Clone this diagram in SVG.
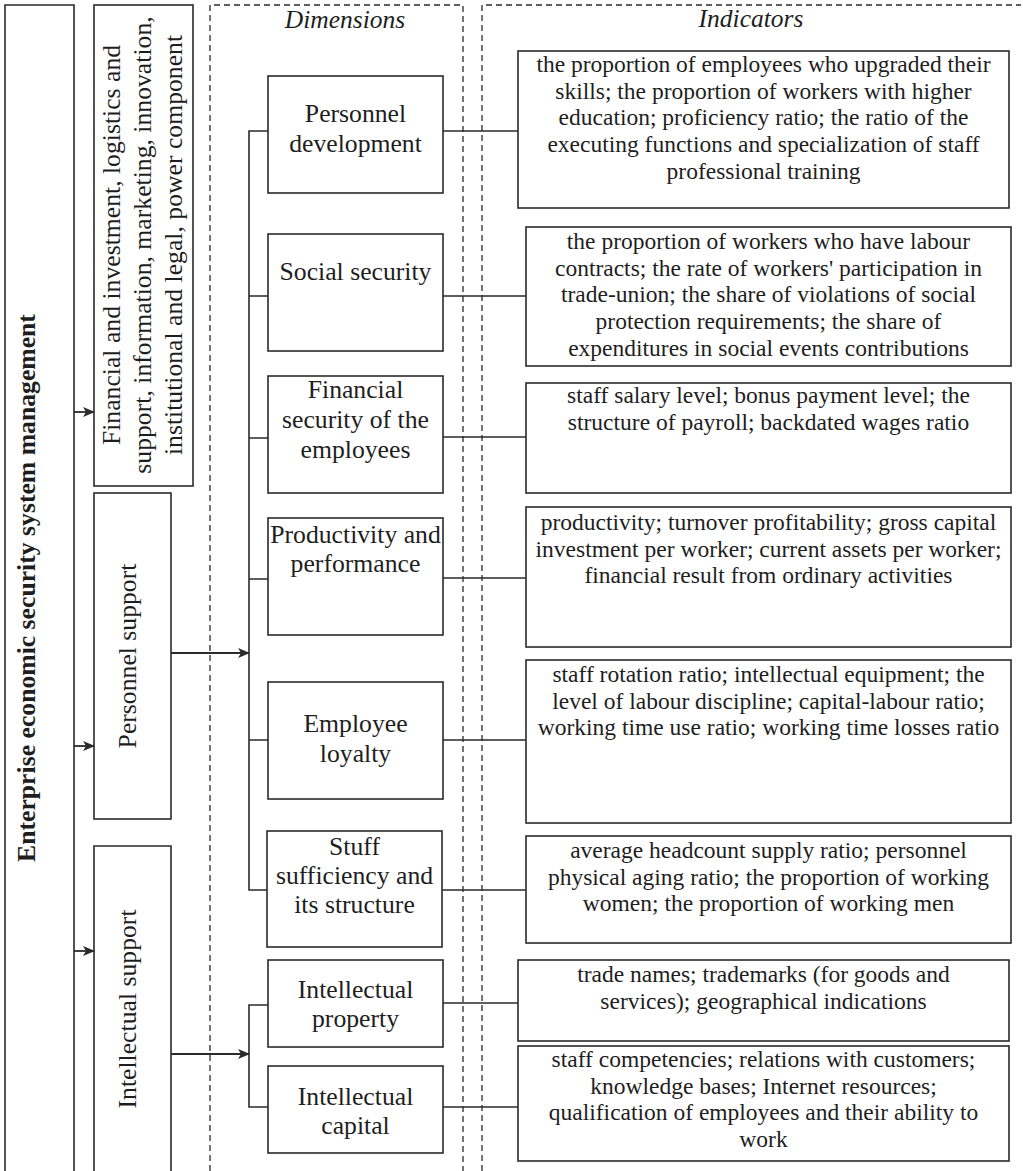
<svg xmlns="http://www.w3.org/2000/svg" width="1023" height="1171" viewBox="0 0 1023 1171">
  <style>
    .box { fill: #fff; stroke: #2a2a2a; stroke-width: 1.6; }
    .open { fill: none; stroke: #2a2a2a; stroke-width: 1.6; }
    .dash { fill: none; stroke: #2a2a2a; stroke-width: 1.3; stroke-dasharray: 6 4; }
    .line { fill: none; stroke: #2a2a2a; stroke-width: 1.6; }
    .arrow { fill: none; stroke: #2a2a2a; stroke-width: 1.8; marker-end: url(#head); }
    text { font-family: "Liberation Serif", "Times New Roman", serif; fill: #1e1e1e; }
    .dim { font-size: 25.7px; text-anchor: middle; }
    .ind { font-size: 23.5px; text-anchor: middle; }
    .head { font-size: 25.5px; font-style: italic; text-anchor: middle; }
    .side { font-size: 25.7px; text-anchor: middle; }
    .main { font-size: 25.7px; font-weight: bold; text-anchor: middle; }
  </style>
  <defs>
    <marker id="head" viewBox="0 0 12 10" refX="11" refY="5" markerWidth="12" markerHeight="10" markerUnits="userSpaceOnUse" orient="auto">
      <path d="M0,0 L12,5 L0,10 L3,5 z" fill="#2a2a2a"/>
    </marker>
  </defs>

  <!-- column frames -->
  <g id="frames">
    <path class="dash" d="M210,1171 V5 H463 V1171"/>
    <path class="dash" d="M482,1171 V5 H1021"/>
    <text class="head" x="345" y="28">Dimensions</text>
    <text class="head" x="751" y="27">Indicators</text>
  </g>

  <!-- left column: system and its components -->
  <g id="system">
    <path class="open" d="M5,1171 V5 H74 V1171"/>
    <text class="main" transform="translate(35,588) rotate(-90)">Enterprise economic security system management</text>
  </g>
  <g id="components">
    <rect class="box" x="94" y="5" width="99" height="481"/>
    <text class="side" transform="translate(120,245) rotate(-90)">Financial and investment, logistics and</text>
    <text class="side" transform="translate(151,245) rotate(-90)">support, information, marketing, innovation,</text>
    <text class="side" transform="translate(182,245) rotate(-90)">institutional and legal, power component</text>
  </g>
  <g id="personnel-support">
    <rect class="box" x="94" y="493" width="77" height="326"/>
    <text class="side" transform="translate(136,656) rotate(-90)">Personnel support</text>
  </g>
  <g id="intellectual-support">
    <path class="open" d="M94,1171 V846 H171 V1171"/>
    <text class="side" transform="translate(136,1009) rotate(-90)">Intellectual support</text>
  </g>

  <!-- dimensions -->
  <g id="dim-personnel-development">
    <rect class="box" x="268" y="76" width="175" height="117"/>
    <text class="dim" x="355.5" y="122">Personnel</text>
    <text class="dim" x="355.5" y="152">development</text>
  </g>
  <g id="dim-social-security">
    <rect class="box" x="268" y="234" width="175" height="117"/>
    <text class="dim" x="355.5" y="280">Social security</text>
  </g>
  <g id="dim-financial-security">
    <rect class="box" x="268" y="376" width="175" height="117"/>
    <text class="dim" x="355.5" y="398">Financial</text>
    <text class="dim" x="355.5" y="428">security of the</text>
    <text class="dim" x="355.5" y="458">employees</text>
  </g>
  <g id="dim-productivity">
    <rect class="box" x="268" y="518" width="175" height="117"/>
    <text class="dim" x="355.5" y="543">Productivity and</text>
    <text class="dim" x="355.5" y="572">performance</text>
  </g>
  <g id="dim-loyalty">
    <rect class="box" x="268" y="682" width="175" height="117"/>
    <text class="dim" x="355.5" y="732">Employee</text>
    <text class="dim" x="355.5" y="762">loyalty</text>
  </g>
  <g id="dim-sufficiency">
    <rect class="box" x="267" y="831" width="175" height="116"/>
    <text class="dim" x="354.5" y="855">Stuff</text>
    <text class="dim" x="354.5" y="884">sufficiency and</text>
    <text class="dim" x="354.5" y="913">its structure</text>
  </g>
  <g id="dim-intellectual-property">
    <rect class="box" x="268" y="960" width="175" height="87"/>
    <text class="dim" x="355.5" y="998">Intellectual</text>
    <text class="dim" x="355.5" y="1027">property</text>
  </g>
  <g id="dim-intellectual-capital">
    <rect class="box" x="268" y="1066" width="175" height="87"/>
    <text class="dim" x="355.5" y="1105">Intellectual</text>
    <text class="dim" x="355.5" y="1134">capital</text>
  </g>

  <!-- indicators -->
  <g id="ind-personnel-development">
    <rect class="box" x="518" y="51" width="491" height="157"/>
    <text class="ind" x="763.5" y="72">the proportion of employees who upgraded their</text>
    <text class="ind" x="763.5" y="98.7">skills; the proportion of workers with higher</text>
    <text class="ind" x="763.5" y="125.4">education; proficiency ratio; the ratio of the</text>
    <text class="ind" x="763.5" y="152.1">executing functions and specialization of staff</text>
    <text class="ind" x="763.5" y="178.8">professional training</text>
  </g>
  <g id="ind-social-security">
    <rect class="box" x="526" y="227" width="485" height="139"/>
    <text class="ind" x="768.5" y="249">the proportion of workers who have labour</text>
    <text class="ind" x="768.5" y="275.7">contracts; the rate of workers' participation in</text>
    <text class="ind" x="768.5" y="302.4">trade-union; the share of violations of social</text>
    <text class="ind" x="768.5" y="329.1">protection requirements; the share of</text>
    <text class="ind" x="768.5" y="355.8">expenditures in social events contributions</text>
  </g>
  <g id="ind-financial-security">
    <rect class="box" x="526" y="383" width="485" height="110"/>
    <text class="ind" x="768.5" y="403">staff salary level; bonus payment level; the</text>
    <text class="ind" x="768.5" y="429.7">structure of payroll; backdated wages ratio</text>
  </g>
  <g id="ind-productivity">
    <rect class="box" x="526" y="507" width="485" height="140"/>
    <text class="ind" x="768.5" y="530">productivity; turnover profitability; gross capital</text>
    <text class="ind" x="768.5" y="556.7">investment per worker; current assets per worker;</text>
    <text class="ind" x="768.5" y="583.4">financial result from ordinary activities</text>
  </g>
  <g id="ind-loyalty">
    <rect class="box" x="526" y="660" width="485" height="163"/>
    <text class="ind" x="768.5" y="682">staff rotation ratio; intellectual equipment; the</text>
    <text class="ind" x="768.5" y="708.7">level of labour discipline; capital-labour ratio;</text>
    <text class="ind" x="768.5" y="735.4">working time use ratio; working time losses ratio</text>
  </g>
  <g id="ind-sufficiency">
    <rect class="box" x="526" y="836" width="485" height="107"/>
    <text class="ind" x="768.5" y="858">average headcount supply ratio; personnel</text>
    <text class="ind" x="768.5" y="884.7">physical aging ratio; the proportion of working</text>
    <text class="ind" x="768.5" y="911.4">women; the proportion of working men</text>
  </g>
  <g id="ind-intellectual-property">
    <rect class="box" x="518" y="960" width="491" height="81"/>
    <text class="ind" x="763.5" y="982">trade names; trademarks (for goods and</text>
    <text class="ind" x="763.5" y="1008.7">services); geographical indications</text>
  </g>
  <g id="ind-intellectual-capital">
    <rect class="box" x="518" y="1046" width="491" height="115"/>
    <text class="ind" x="763.5" y="1067">staff competencies; relations with customers;</text>
    <text class="ind" x="763.5" y="1093.7">knowledge bases; Internet resources;</text>
    <text class="ind" x="763.5" y="1120.4">qualification of employees and their ability to</text>
    <text class="ind" x="763.5" y="1147.1">work</text>
  </g>

  <!-- connectors -->
  <g id="connectors">
    <!-- system to components -->
    <line class="arrow" x1="74" y1="412" x2="94" y2="412"/>
    <line class="arrow" x1="74" y1="746" x2="94" y2="746"/>
    <line class="arrow" x1="74" y1="951" x2="94" y2="951"/>
    <!-- personnel support branch -->
    <line class="arrow" x1="171" y1="653" x2="249" y2="653"/>
    <path class="line" d="M268,131 H249 V890 H267"/>
    <path class="line" d="M249,296 H268 M249,438 H268 M249,579 H268 M249,740 H268"/>
    <!-- intellectual support branch -->
    <line class="arrow" x1="171" y1="1054" x2="249" y2="1054"/>
    <path class="line" d="M268,1005 H249 V1107 H268"/>
    <!-- dimensions to indicators -->
    <path class="line" d="M443,131 H518 M443,296 H526 M443,437 H526 M443,578 H526 M443,740 H526 M442,890 H526 M443,1003 H518 M443,1107 H518"/>
  </g>
</svg>
